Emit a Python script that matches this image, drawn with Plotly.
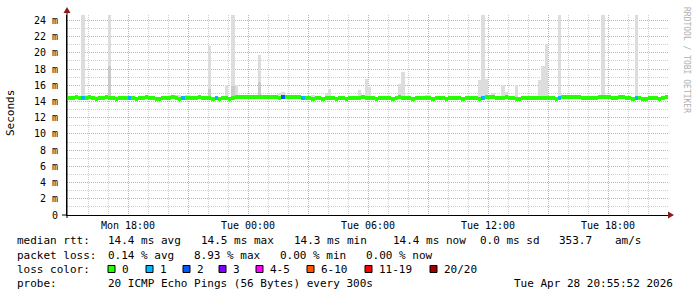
import plotly.graph_objects as go
import pandas as pd

# ---------------- data ----------------
START = "2026-04-27 15:00"          # first 10-minute step
median_ms = [
    14.4, 14.4, 14.5, 14.4, 14.4, 14.4, 14.5, 14.4, 14.3, 14.4, 14.4, 14.5, 14.4, 14.4, 14.3, 14.4, 14.4, 14.4,
    14.4, 14.4, 14.3, 14.4, 14.4, 14.5, 14.4, 14.4, 14.3, 14.3, 14.4, 14.4, 14.4, 14.5, 14.4, 14.3, 14.4, 14.4,
    14.4, 14.4, 14.4, 14.5, 14.4, 14.4, 14.4, 14.3, 14.4, 14.3, 14.4, 14.4, 14.3, 14.4, 14.5, 14.5, 14.5, 14.5,
    14.5, 14.5, 14.5, 14.5, 14.5, 14.5, 14.5, 14.5, 14.5, 14.4, 14.5, 14.5, 14.5, 14.5, 14.5, 14.5, 14.4, 14.4,
    14.4, 14.3, 14.4, 14.4, 14.3, 14.4, 14.4, 14.4, 14.3, 14.4, 14.4, 14.3, 14.4, 14.4, 14.4, 14.4, 14.5, 14.4,
    14.4, 14.4, 14.3, 14.4, 14.4, 14.4, 14.4, 14.3, 14.4, 14.5, 14.4, 14.4, 14.4, 14.3, 14.4, 14.4, 14.4, 14.4,
    14.4, 14.3, 14.4, 14.4, 14.4, 14.3, 14.4, 14.4, 14.4, 14.4, 14.3, 14.4, 14.4, 14.4, 14.4, 14.3, 14.4, 14.5,
    14.5, 14.5, 14.4, 14.4, 14.4, 14.5, 14.4, 14.4, 14.3, 14.3, 14.4, 14.4, 14.4, 14.4, 14.4, 14.4, 14.4, 14.4,
    14.4, 14.4, 14.3, 14.4, 14.5, 14.5, 14.5, 14.5, 14.5, 14.5, 14.4, 14.4, 14.4, 14.4, 14.4, 14.5, 14.5, 14.5,
    14.5, 14.4, 14.4, 14.5, 14.5, 14.4, 14.4, 14.3, 14.4, 14.4, 14.3, 14.3, 14.4, 14.4, 14.4, 14.3, 14.4, 14.5,
]
smoke_max_ms = [
    14.6, 14.6, 14.6, 14.7, 25.0, 14.8, 14.6, 14.6, 14.7, 14.6, 14.6, 14.6, 25.0, 14.6, 14.7, 14.6, 14.6, 14.6,
    14.6, 14.6, 14.6, 14.6, 14.6, 14.6, 14.6, 14.6, 14.6, 14.6, 14.6, 14.7, 14.8, 14.6, 14.8, 14.8, 14.6, 14.8,
    14.8, 14.6, 14.6, 14.6, 14.6, 14.6, 20.9, 14.6, 14.6, 14.6, 14.6, 16.0, 14.6, 25.0, 16.0, 14.6, 14.6, 14.6,
    14.6, 14.6, 14.6, 19.7, 14.6, 14.6, 14.6, 14.6, 14.7, 15.0, 15.2, 14.6, 14.6, 14.6, 14.6, 14.6, 14.6, 14.6,
    14.6, 14.8, 14.6, 14.6, 14.6, 15.0, 15.6, 14.6, 14.6, 14.6, 14.7, 14.6, 14.6, 14.6, 14.6, 15.4, 14.6, 16.8,
    15.8, 14.6, 14.6, 14.6, 14.6, 14.6, 14.7, 14.6, 14.6, 16.2, 17.7, 14.6, 14.6, 14.6, 14.6, 14.6, 14.6, 14.8,
    14.8, 14.6, 14.6, 14.6, 14.6, 14.6, 14.6, 14.6, 14.6, 14.6, 14.6, 14.6, 14.6, 14.6, 14.6, 16.7, 25.0, 16.8,
    14.6, 15.0, 14.6, 14.6, 16.0, 15.2, 14.6, 14.6, 16.0, 14.6, 14.6, 14.6, 14.6, 14.6, 14.6, 16.6, 18.4, 21.1,
    14.6, 14.6, 14.6, 25.0, 14.6, 14.6, 14.6, 14.6, 14.8, 14.8, 14.6, 14.6, 14.6, 14.6, 14.6, 14.6, 25.0, 14.6,
    14.6, 14.6, 14.6, 14.6, 14.6, 14.6, 14.6, 14.6, 25.0, 14.6, 14.6, 14.6, 14.6, 14.6, 14.6, 14.6, 14.6, 14.6,
]
smoke_min_ms = [
    14.2, 14.2, 14.3, 14.2, 14.2, 14.2, 14.3, 14.2, 14.1, 14.2, 14.2, 14.3, 14.2, 14.2, 14.1, 14.2, 14.2, 14.2,
    14.2, 14.2, 14.1, 14.2, 14.2, 14.3, 14.2, 14.2, 14.1, 14.1, 14.2, 14.2, 14.2, 14.3, 14.2, 14.1, 14.2, 14.2,
    14.2, 14.2, 14.2, 14.3, 14.2, 14.2, 14.2, 14.1, 14.2, 14.1, 14.2, 14.2, 14.1, 14.2, 14.3, 14.3, 14.3, 14.3,
    14.3, 14.3, 14.3, 14.3, 14.3, 14.3, 14.3, 14.3, 14.3, 14.2, 14.3, 14.3, 14.3, 14.3, 14.3, 14.3, 14.2, 14.2,
    14.2, 14.1, 14.2, 14.2, 14.1, 14.2, 14.2, 14.2, 14.1, 14.2, 14.2, 14.1, 14.2, 14.2, 14.2, 14.2, 14.3, 14.2,
    14.2, 14.2, 14.1, 14.2, 14.2, 14.2, 14.2, 14.1, 14.2, 14.3, 14.2, 14.2, 14.2, 14.1, 14.2, 14.2, 14.2, 14.2,
    14.2, 14.1, 14.2, 14.2, 14.2, 14.1, 14.2, 14.2, 14.2, 14.2, 14.1, 14.2, 14.2, 14.2, 14.2, 14.1, 14.2, 14.3,
    14.3, 14.3, 14.2, 14.2, 14.2, 14.3, 14.2, 14.2, 14.1, 14.1, 14.2, 14.2, 14.2, 14.2, 14.2, 14.2, 14.2, 14.2,
    14.2, 14.2, 14.1, 14.2, 14.3, 14.3, 14.3, 14.3, 14.3, 14.3, 14.2, 14.2, 14.2, 14.2, 14.2, 14.3, 14.3, 14.3,
    14.3, 14.2, 14.2, 14.3, 14.3, 14.2, 14.2, 14.1, 14.2, 14.2, 14.1, 14.1, 14.2, 14.2, 14.2, 14.1, 14.2, 14.3,
]
loss_count = [
    0, 0, 0, 0, 1, 0, 0, 0, 0, 0, 0, 0, 0, 0, 0, 0, 0, 0,
    1, 0, 0, 0, 0, 0, 0, 0, 0, 0, 0, 0, 0, 0, 0, 0, 1, 0,
    0, 0, 0, 0, 0, 0, 0, 0, 1, 0, 0, 0, 0, 0, 0, 0, 0, 0,
    0, 0, 0, 0, 0, 0, 0, 0, 0, 0, 2, 0, 0, 0, 0, 0, 1, 0,
    0, 0, 0, 0, 0, 0, 0, 0, 0, 0, 0, 0, 0, 0, 0, 0, 0, 0,
    0, 0, 0, 0, 0, 0, 0, 0, 0, 0, 0, 0, 0, 0, 0, 0, 0, 0,
    0, 0, 0, 0, 0, 0, 0, 0, 0, 0, 0, 0, 0, 0, 0, 0, 1, 0,
    0, 0, 0, 0, 0, 0, 0, 0, 0, 0, 0, 0, 0, 0, 0, 0, 0, 0,
    0, 0, 0, 1, 0, 0, 0, 0, 0, 0, 0, 0, 0, 0, 0, 0, 0, 0,
    0, 0, 0, 0, 0, 0, 0, 0, 1, 0, 0, 0, 0, 0, 0, 0, 0, 0,
]
# darker inner smoke on a few spikes
inner_times = ["2026-04-27 17:00", "2026-04-27 22:00", "2026-04-27 23:10", "2026-04-28 00:30"]
inner_top_ms = [18.4, 15.5, 15.9, 16.4]
inner_base_ms = [14.3, 14.3, 14.3, 14.4]

loss_labels = ["0", "1", "2", "3", "4-5", "6-10", "11-19", "20/20"]
loss_colors = ["#26ff00", "#00b8ff", "#0059ff", "#7e00ff", "#ff00ff", "#ff5500", "#ff0000", "#a10000"]

y_ticks = [0, 2, 4, 6, 8, 10, 12, 14, 16, 18, 20, 22, 24]
y_ticktext = ["0"] + [f"{v} m" for v in y_ticks[1:]]
x_tickvals = ["2026-04-27 15:00", "2026-04-27 18:00", "2026-04-27 21:00", "2026-04-28 00:00",
              "2026-04-28 03:00", "2026-04-28 06:00", "2026-04-28 09:00", "2026-04-28 12:00",
              "2026-04-28 15:00", "2026-04-28 18:00"]
x_ticktext = ["", "Mon 18:00", "", "Tue 00:00", "", "Tue 06:00", "", "Tue 12:00", "", "Tue 18:00"]

stats_rtt = ["14.4 ms avg", "14.5 ms max", "14.3 ms min", "14.4 ms now", "0.0 ms sd", "353.7", "am/s"]
stats_loss = ["0.14 % avg", "8.93 % max", "0.00 % min", "0.00 % now"]
probe_text = "20 ICMP Echo Pings (56 Bytes) every 300s"
stamp_text = "Tue Apr 28 20:55:52 2026"

# ---------------- geometry ----------------
W, H = 697, 297
L, R, T, B = 67, 29, 15, 82
PW, PH = W - L - R, H - T - B
MONO = "DejaVu Sans Mono"


def px(x):
    return (x - L) / PW


def py(y):
    return (H - B - y) / PH


step = pd.Timedelta(minutes=10)
times = pd.date_range(START, periods=len(median_ms), freq="10min")
centers = times + step / 2
bar_w = step.total_seconds() * 1000

fig = go.Figure()
fig.add_bar(x=centers, y=[mx - mn for mx, mn in zip(smoke_max_ms, smoke_min_ms)], base=smoke_min_ms,
            width=bar_w, marker=dict(color="#dddddd", line_width=0), hoverinfo="skip")
fig.add_bar(x=pd.to_datetime(inner_times) + step / 2,
            y=[t - b for t, b in zip(inner_top_ms, inner_base_ms)], base=inner_base_ms,
            width=bar_w, marker=dict(color="#cacaca", line_width=0), hoverinfo="skip")
band = 0.5
fig.add_bar(x=centers, y=[band] * len(median_ms), base=[m - band / 2 for m in median_ms],
            width=bar_w, marker=dict(color=[loss_colors[c] for c in loss_count], line_width=0))

fig.update_layout(
    width=W, height=H, margin=dict(l=L, r=R, t=T, b=B),
    paper_bgcolor="white", plot_bgcolor="white",
    barmode="overlay", bargap=0, showlegend=False,
    font=dict(family=MONO, size=10, color="#000"),
)
fig.update_xaxes(
    type="date", range=["2026-04-27 14:57", "2026-04-28 21:00"],
    tickmode="array", tickvals=x_tickvals, ticktext=x_ticktext,
    showgrid=True, gridcolor="#e8a0a0", griddash="1px,1px", gridwidth=1,
    minor=dict(dtick=3600000, tick0="2026-04-27 15:00", showgrid=True,
               gridcolor="#cfcfcf", griddash="1px,1px", gridwidth=1),
    showline=True, linecolor="#000", linewidth=1, ticks="", ticklabelstandoff=1,
    tickfont=dict(family=MONO, size=10, color="#000"), zeroline=False,
)
fig.update_yaxes(
    range=[0, 24.67], tickmode="array", tickvals=y_ticks, ticktext=y_ticktext,
    showgrid=True, gridcolor="#e8a0a0", griddash="1px,1px", gridwidth=1,
    minor=dict(dtick=1, showgrid=True, gridcolor="#cfcfcf", griddash="1px,1px", gridwidth=1),
    showline=True, linecolor="#000", linewidth=1, ticks="", ticklabelstandoff=6,
    tickfont=dict(family=MONO, size=10, color="#000"), zeroline=False,
)

shapes = []
# axis extensions and arrow heads
shapes.append(dict(type="line", xref="paper", yref="paper", x0=px(62), x1=px(67), y0=0, y1=0,
                   line=dict(color="#000", width=1)))
shapes.append(dict(type="line", xref="paper", yref="paper", x0=0, x1=0, y0=py(218), y1=py(12),
                   line=dict(color="#000", width=1)))
shapes.append(dict(type="path", xref="paper", yref="paper",
                   path=f"M {px(63.5)} {py(13)} L {px(70.5)} {py(13)} L {px(67)} {py(7)} Z",
                   fillcolor="#8b1a1a", line=dict(color="#8b1a1a", width=0)))
shapes.append(dict(type="path", xref="paper", yref="paper",
                   path=f"M {px(668)} {py(211.5)} L {px(668)} {py(218.5)} L {px(674)} {py(215)} Z",
                   fillcolor="#8b1a1a", line=dict(color="#8b1a1a", width=0)))

ann = []


def txt(x, y, s, size=11, color="#000", angle=0, anchor="left"):
    ann.append(dict(x=px(x), y=py(y), xref="paper", yref="paper", text=s, showarrow=False,
                    xanchor=anchor, yanchor="middle", textangle=angle, borderpad=0,
                    font=dict(family=MONO, size=size, color=color)))


txt(10, 113, "Seconds", size=11, angle=-90, anchor="center")
txt(686, 60, "RRDTOOL / TOBI OETIKER", size=8, color="#b0b0b0", angle=90, anchor="center")

txt(16, 241, "median rtt:")
for xp, s in zip([107, 200, 293, 392, 479, 558, 614], stats_rtt):
    txt(xp, 241, s)
txt(16, 255, "packet loss:")
for xp, s in zip([107, 193, 279, 365], stats_loss):
    txt(xp, 255, s)
txt(16, 269, "loss color:")
box_x = [108, 146, 183, 219, 256, 307, 365, 430]
lab_x = [121, 159, 196, 232, 269, 320, 378, 443]
for bx, lx, lab, col in zip(box_x, lab_x, loss_labels, loss_colors):
    shapes.append(dict(type="rect", xref="paper", yref="paper", x0=px(bx), x1=px(bx + 7),
                       y0=py(272.5), y1=py(265.5), fillcolor=col, line=dict(color="#000", width=1)))
    txt(lx, 269, lab)
txt(16, 283, "probe:")
txt(107, 283, probe_text)
txt(513, 283, stamp_text)

fig.update_layout(shapes=shapes, annotations=ann)
fig.write_html("out.html")
